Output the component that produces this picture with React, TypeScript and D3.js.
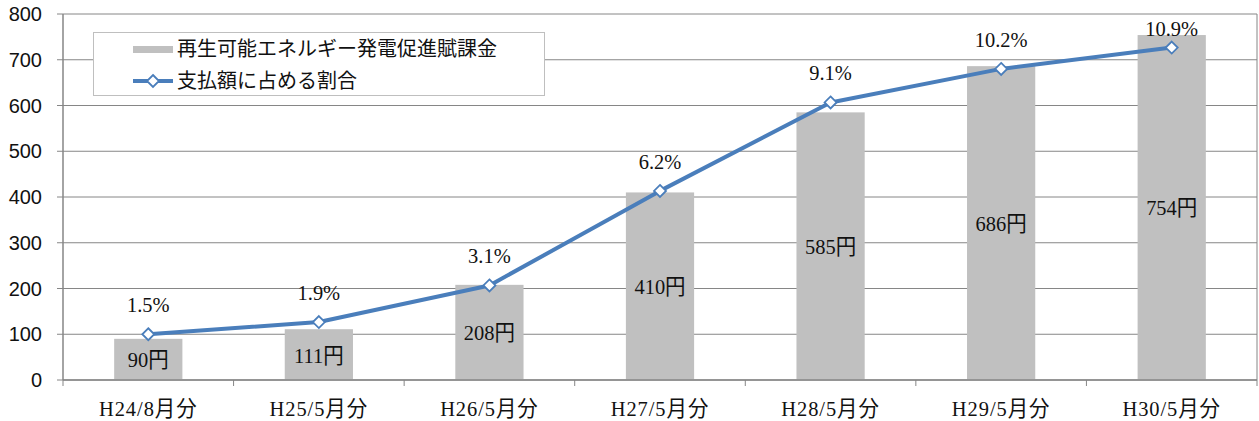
import React from "react";
import * as d3 from "d3";

const categories = ["H24/8月分", "H25/5月分", "H26/5月分", "H27/5月分", "H28/5月分", "H29/5月分", "H30/5月分"];
const levy = [90, 111, 208, 410, 585, 686, 754];
const share = [1.5, 1.9, 3.1, 6.2, 9.1, 10.2, 10.9];
const yTicks = [0, 100, 200, 300, 400, 500, 600, 700, 800];
const barName = "再生可能エネルギー発電促進賦課金";
const lineName = "支払額に占める割合";

const W = 1259, H = 421;
const m = { left: 63, right: 2, top: 14, bottom: 41 };
const SERIF = "'Liberation Serif', 'Noto Sans CJK JP', serif";
const SANS = "'Liberation Sans', Arial, sans-serif";
const GOTHIC = "'Noto Sans CJK JP', sans-serif";

function ST({ x, y, children, size = 22, sx = 0.93, ls = 0 }: any) {
  return (
    <text transform={`translate(${x},${y}) scale(${sx},1)`} dy="0.36em" textAnchor="middle"
      fontFamily={SERIF} fontSize={size} letterSpacing={ls} fill="#111">{children}</text>
  );
}

export default function App() {
  const x = d3.scaleBand<string>().domain(categories).range([m.left, W - m.right]).paddingInner(0.6).paddingOuter(0.3);
  const outer = d3.scaleBand<string>().domain(categories).range([m.left, W - m.right]);
  const y = d3.scaleLinear().domain([0, 800]).range([H - m.bottom, m.top]);
  const y2 = d3.scaleLinear().domain([0, 12]).range([H - m.bottom, m.top]);
  const cx = (c: string) => (outer(c) as number) + outer.bandwidth() / 2;
  const line = d3.line<number>().x((_, i) => cx(categories[i])).y((d) => y2(d));
  const x0 = m.left, x1 = W - m.right, yb = H - m.bottom;
  const grid = "#868686";
  const blue = "#4a7ebb";
  const diamond = (px: number, py: number, r = 6) =>
    `M${px},${py - r}L${px + r},${py}L${px},${py + r}L${px - r},${py}Z`;

  return (
    <svg width={W} height={H} style={{ position: "absolute", left: 0, top: 0, background: "#fff" }}>
      {yTicks.map((t) => (
        <g key={t}>
          <line x1={x0 - 6} x2={x1} y1={y(t)} y2={y(t)} stroke={grid} strokeWidth={1} />
          <text x={42} y={y(t)} dy="0.36em" textAnchor="end" fontFamily={SANS} fontSize={20} fill="#111">{t}</text>
        </g>
      ))}
      <line x1={x1} x2={x1} y1={m.top} y2={yb} stroke={grid} />
      {categories.map((c, i) => (
        <rect key={c} x={(x(c) as number)} y={y(levy[i])} width={x.bandwidth()} height={yb - y(levy[i])} fill="#c0c0c0" />
      ))}
      <line x1={x0} x2={x0} y1={m.top} y2={yb} stroke={grid} strokeWidth={1.5} />
      <line x1={x0} x2={x1} y1={yb} y2={yb} stroke={grid} strokeWidth={1.5} />
      {categories.map((c) => (
        <line key={"t" + c} x1={outer(c) as number} x2={outer(c) as number} y1={yb} y2={yb + 6} stroke={grid} />
      ))}
      <line x1={x1} x2={x1} y1={yb} y2={yb + 6} stroke={grid} />
      {categories.map((c, i) => (
        <ST key={"bl" + c} x={cx(c)} y={(y(levy[i]) + yb) / 2}>{levy[i]}円</ST>
      ))}
      <path d={line(share) as string} fill="none" stroke={blue} strokeWidth={4} strokeLinejoin="round" />
      {share.map((v, i) => (
        <path key={"m" + i} d={diamond(cx(categories[i]), y2(v))} fill="#fff" stroke={blue} strokeWidth={1.8} />
      ))}
      {share.map((v, i) => (
        <ST key={"pl" + i} x={cx(categories[i])} y={Math.max(y2(v) - 30, 28)}>{v.toFixed(1)}%</ST>
      ))}
      {categories.map((c) => (
        <ST key={"xl" + c} x={cx(c)} y={408} ls={1}>{c}</ST>
      ))}
      <rect x={93.5} y={32.5} width={451} height={63} fill="#fff" stroke="#bfbfbf" />
      <rect x={133} y={46} width={40} height={7} fill="#c0c0c0" />
      <text x={177} y={49} dy="0.36em" fontFamily={GOTHIC} fontSize={20} fill="#111">{barName}</text>
      <line x1={133} x2={173} y1={81} y2={81} stroke={blue} strokeWidth={4} />
      <path d={diamond(153, 81)} fill="#fff" stroke={blue} strokeWidth={1.8} />
      <text x={177} y={81} dy="0.36em" fontFamily={GOTHIC} fontSize={20} fill="#111">{lineName}</text>
    </svg>
  );
}
